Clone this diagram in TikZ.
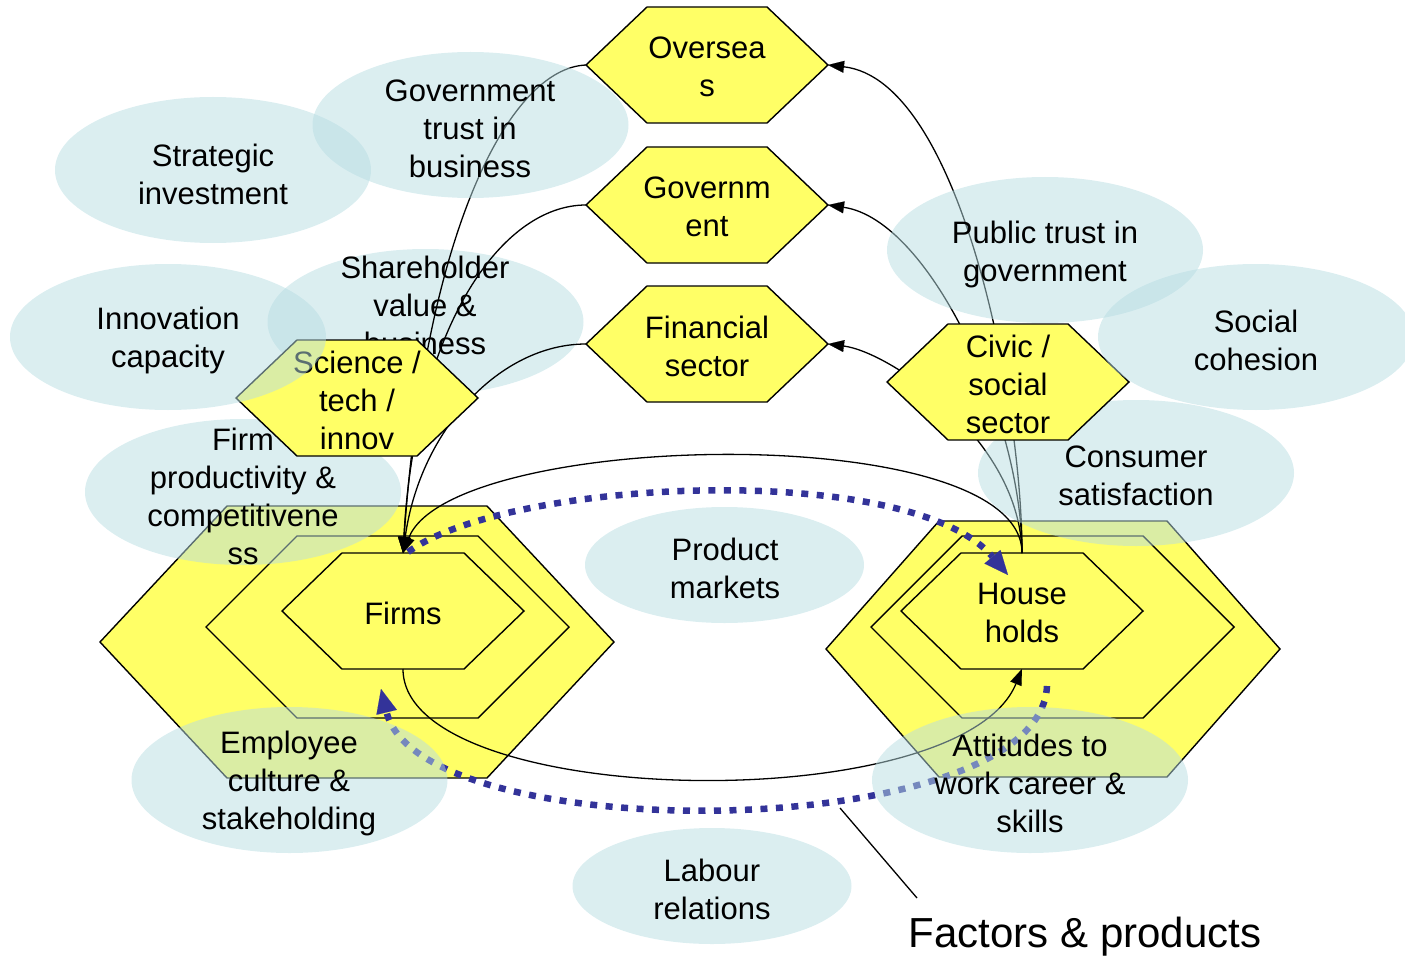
\documentclass[tikz,border=0pt]{standalone}
\usepackage{fontspec}
\setmainfont{Liberation Sans}
\usetikzlibrary{calc,arrows.meta,shapes.geometric}
\definecolor{hexyellow}{RGB}{255,255,102}
\definecolor{ellblue}{RGB}{183,221,226}
\definecolor{dotblue}{RGB}{51,51,153}
\tikzset{
  hexbox/.style={fill=hexyellow, draw=black, line width=1.4pt, line join=miter},
  lbl/.style={font=\fontsize{31}{38}\selectfont, align=center, inner sep=0pt, yshift=-2pt},
  oval/.style={shape=ellipse, fill=ellblue, fill opacity=0.5, draw=none, inner sep=0pt, minimum width=316pt, minimum height=146pt},
  smalloval/.style={oval, minimum width=279pt, minimum height=116pt},
  conn/.style={draw=black, line width=1.3pt},
  arr/.style={-{Triangle[length=16pt,width=12pt,line width=0.1pt]}},
  flow/.style={draw=dotblue, line width=6.5pt, dash pattern=on 7pt off 8.5pt, -{Triangle[length=24pt,width=21pt,line width=0.1pt]}},
}
\newcommand\hexpoly[4]{%
  \filldraw[hexbox] ($(#1)+(-#2,0)$) -- ($(#1)+(-#2+#4,-#3)$) -- ($(#1)+(#2-#4,-#3)$) -- ($(#1)+(#2,0)$) -- ($(#1)+(#2-#4,#3)$) -- ($(#1)+(-#2+#4,#3)$) -- cycle;}
\begin{document}
\begin{tikzpicture}[x=1pt,y=-1pt]
\useasboundingbox (0,0) rectangle (1405,960);
% centres
\coordinate (oversC) at (707,65);
\coordinate (govC) at (707,205);
\coordinate (finC) at (707,344);
\coordinate (sciC) at (357,398);
\coordinate (civC) at (1008,382);
\coordinate (firmC) at (403,611);
\coordinate (firmM) at (387.5,627);
\coordinate (firmO) at (357,642);
\coordinate (hhC) at (1022,611);
\coordinate (hhM) at (1052.5,627);
\coordinate (hhO) at (1053,649);
% anchor points
\coordinate (oversL) at ($(oversC)+(-121,0)$);
\coordinate (oversR) at ($(oversC)+(121,0)$);
\coordinate (govL) at ($(govC)+(-121,0)$);
\coordinate (govR) at ($(govC)+(121,0)$);
\coordinate (finL) at ($(finC)+(-121,0)$);
\coordinate (finR) at ($(finC)+(121,0)$);
\coordinate (firmT) at ($(firmC)+(0,-58)$);
\coordinate (firmB) at ($(firmC)+(0,58)$);
\coordinate (hhT) at ($(hhC)+(0,-58)$);
\coordinate (hhB) at ($(hhC)+(0,58)$);
\coordinate (dotA) at (408,552);
\coordinate (dotB) at (1008,575);
\coordinate (dotC) at (1047,686);
\coordinate (dotD) at (381,689);
\coordinate (fpA) at (840,808);
\coordinate (fpB) at (917,898);

% firms and households
\hexpoly{firmO}{257}{136}{127}
\hexpoly{firmM}{181.5}{91}{91}
\hexpoly{firmC}{121}{58}{60}
\node[lbl] (firms) at (firmC) {Firms};
\hexpoly{hhO}{227}{128}{113}
\hexpoly{hhM}{181.5}{91}{91}
\hexpoly{hhC}{121}{58}{60}
\node[lbl] (households) at (hhC) {House\\holds};

% ellipses lying under the connectors
\node[oval] (shareE) at (425.5,322) {};
\node[lbl] (shareT) at (425,303) {Shareholder\\value \&\\business};
\node[oval] (firmprodE) at (243,492) {};
\node[lbl] (firmprodT) at (243,494) {Firm\\productivity \&\\competitivene\\ss};

% connectors
\draw[conn,arr] (oversL) .. controls (510,68) and (425,230) .. (firmT);
\draw[conn,arr] (govL) .. controls (500,205) and (415,330) .. (firmT);
\draw[conn,arr] (finL) .. controls (500,344) and (420,430) .. (firmT);
\draw[conn,arr] (hhT) .. controls (1022,400) and (960,80) .. (oversR);
\draw[conn,arr] (hhT) .. controls (1022,420) and (930,220) .. (govR);
\draw[conn,arr] (hhT) .. controls (1020,440) and (890,352) .. (finR);
\draw[conn,arr] (hhT) .. controls (1022,418) and (450,430) .. (firmT);
\draw[conn,arr] (firmB) .. controls (403,810) and (960,820) .. (hhB);
\draw[flow] (dotA) .. controls (510,478) and (910,460) .. (dotB);
\draw[flow] (dotC) .. controls (1040,845) and (420,850) .. (dotD);

% ellipse under the civic hexagon
\node[oval] (consE) at (1136,473) {};

% sector hexagons
\hexpoly{oversC}{121}{58}{61}
\node[lbl] (overseas) at (oversC) {Oversea\\s};
\hexpoly{govC}{121}{58}{61}
\node[lbl] (government) at (govC) {Governm\\ent};
\hexpoly{finC}{121}{58}{61}
\node[lbl] (financial) at (finC) {Financial\\sector};
\hexpoly{sciC}{121}{58}{61}
\node[lbl] (science) at (sciC) {Science /\\tech /\\innov};
\hexpoly{civC}{121}{58}{61}
\node[lbl] (civic) at (civC) {Civic /\\social\\sector};
\node[lbl] (consT) at (1136,474) {Consumer\\satisfaction};

% ellipses on top
\node[oval] (stratE) at (213,170) {};
\node[lbl] (stratT) at (213,172) {Strategic\\investment};
\node[oval] (govtrustE) at (470.5,125) {};
\node[lbl] (govtrustT) at (470,127) {Government\\trust in\\business};
\node[oval] (innovE) at (168,337) {};
\node[lbl] (innovT) at (168,338) {Innovation\\capacity};
\node[oval] (pubtrustE) at (1045,250) {};
\node[lbl] (pubtrustT) at (1045,252) {Public trust in\\government};
\node[oval] (socialE) at (1256,337) {};
\node[lbl] (socialT) at (1256,338) {Social\\cohesion};
\node[smalloval] (prodE) at (724.5,565) {};
\node[lbl] (prodT) at (725,566) {Product\\markets};
\node[oval] (emplE) at (289.5,780) {};
\node[lbl] (emplT) at (289,781) {Employee\\culture \&\\stakeholding};
\node[oval] (attE) at (1030,780) {};
\node[lbl] (attT) at (1030,781) {Attitudes to\\work career \&\\skills};
\node[smalloval] (labE) at (712,886) {};
\node[lbl] (labT) at (712,887) {Labour\\relations};

% callout
\node[font=\fontsize{42}{50}\selectfont, inner sep=0pt] (fp) at (1085,937) {Factors \& products};
\draw[conn] (fpA) -- (fpB);
\end{tikzpicture}
\end{document}
